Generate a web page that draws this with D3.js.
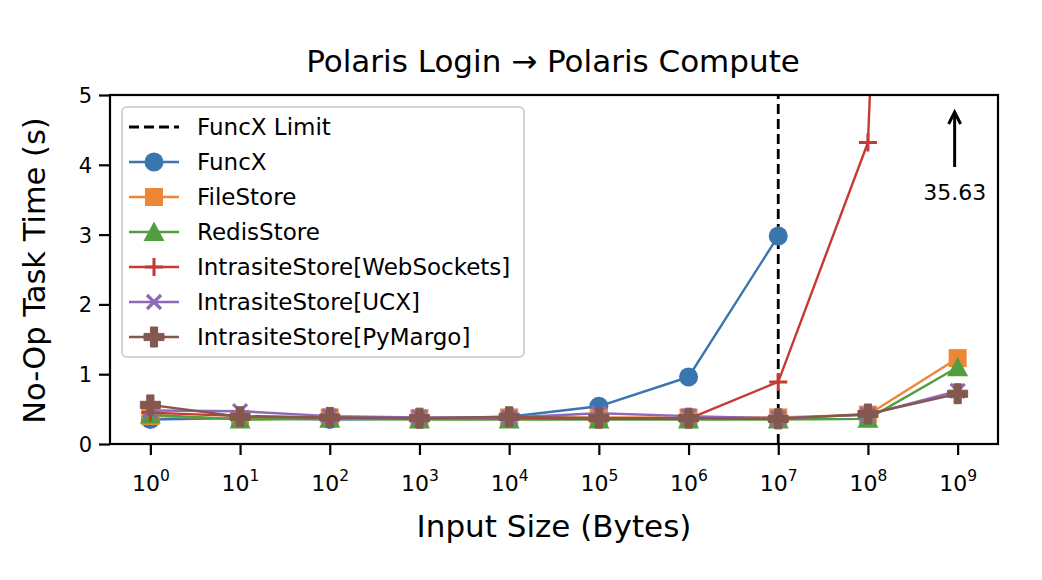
<!DOCTYPE html>
<html>
<head>
<meta charset="utf-8">
<script src="https://cdn.jsdelivr.net/npm/d3@7"></script>
<style>
  html, body { margin: 0; padding: 0; background: #fff; }
  svg { display: block; font-family: "DejaVu Sans", sans-serif; }
</style>
</head>
<body>
<svg id="chart" width="1042" height="580"></svg>
<script>
// ---- data ----
const exponents = [0, 1, 2, 3, 4, 5, 6, 7, 8, 9];
const yTicks = [0, 1, 2, 3, 4, 5];
const funcxLimitIndex = 7;
const funcx      = [0.35, 0.37, 0.35, 0.36, 0.39, 0.54, 0.96, 2.98];
const fileStore  = [0.40, 0.36, 0.38, 0.37, 0.38, 0.38, 0.38, 0.38, 0.42, 1.23];
const redisStore = [0.42, 0.35, 0.36, 0.35, 0.35, 0.35, 0.35, 0.35, 0.36, 1.10];
const wsStore    = [0.45, 0.40, 0.38, 0.37, 0.37, 0.36, 0.36, 0.89, 4.32, 35.63];
const ucxStore   = [0.48, 0.47, 0.40, 0.38, 0.38, 0.44, 0.40, 0.37, 0.42, 0.76];
const margoStore = [0.56, 0.39, 0.38, 0.37, 0.39, 0.37, 0.37, 0.36, 0.43, 0.72];
const seriesNames = ["FuncX", "FileStore", "RedisStore", "IntrasiteStore[WebSockets]", "IntrasiteStore[UCX]", "IntrasiteStore[PyMargo]"];
const seriesValues = [funcx, fileStore, redisStore, wsStore, ucxStore, margoStore];
const seriesColors = ["#3a75b0", "#ef8636", "#519e3e", "#c53a32", "#8d69b8", "#84584e"];
const seriesMarkers = ["circle", "square", "triangle", "plus", "x", "filledplus"];
const annotationText = "35.63";

// ---- layout ----
const L = 110, R = 998, T = 95, B = 444;
const svg = d3.select("#chart");
const x = d3.scaleLinear().domain([-0.45, 9.45]).range([L, R]);
const y = d3.scaleLinear().domain([0, 5]).range([B, T]);

svg.append("defs").append("clipPath").attr("id", "clip")
  .append("rect").attr("x", L).attr("y", T).attr("width", R - L).attr("height", B - T);

// title
svg.append("text").attr("x", 553).attr("y", 72).attr("text-anchor", "middle")
  .attr("font-size", 31).attr("fill", "#000").text("Polaris Login \u2192 Polaris Compute");

// axes
const xAxis = d3.axisBottom(x).tickValues(exponents).tickSize(11).tickPadding(7).tickFormat(() => "");
const gx = svg.append("g").attr("transform", `translate(0,${B})`).call(xAxis);
gx.select(".domain").remove();
gx.selectAll(".tick line").attr("stroke", "#000").attr("stroke-width", 2.2);
gx.selectAll(".tick").each(function(d) {
  const t = d3.select(this).append("text")
    .attr("y", 47).attr("text-anchor", "middle").attr("fill", "#000")
    .attr("font-size", 22).attr("font-family", "DejaVu Sans, sans-serif");
  t.append("tspan").text("10");
  t.append("tspan").attr("dy", -10).attr("font-size", 15.5).text(String(d));
});

const yAxis = d3.axisLeft(y).tickValues(yTicks).tickSize(11).tickPadding(7).tickFormat(d3.format("d"));
const gy = svg.append("g").attr("transform", `translate(${L},0)`).call(yAxis);
gy.select(".domain").remove();
gy.selectAll(".tick line").attr("stroke", "#000").attr("stroke-width", 2.2);
gy.selectAll(".tick text").attr("font-size", 21).attr("fill", "#000")
  .attr("font-family", "DejaVu Sans, sans-serif").attr("dy", "0.36em");

// axis labels
svg.append("text").attr("x", 554).attr("y", 537).attr("text-anchor", "middle")
  .attr("font-size", 31).attr("fill", "#000").text("Input Size (Bytes)");
svg.append("text").attr("transform", `translate(45,${(T + B) / 2 + 1}) rotate(-90)`)
  .attr("text-anchor", "middle").attr("font-size", 30.5).attr("fill", "#000")
  .text("No-Op Task Time (s)");

// plot area
const plot = svg.append("g").attr("clip-path", "url(#clip)");

// FuncX limit
plot.append("line")
  .attr("x1", x(funcxLimitIndex)).attr("x2", x(funcxLimitIndex))
  .attr("y1", y(0)).attr("y2", y(5))
  .attr("stroke", "#000").attr("stroke-width", 2.8).attr("stroke-dasharray", "10,5");

function drawMarker(g, kind, cx, cy, color) {
  const s = 9.5;
  if (kind === "circle") {
    g.append("circle").attr("cx", cx).attr("cy", cy).attr("r", s).attr("fill", color);
  } else if (kind === "square") {
    g.append("rect").attr("x", cx - 9).attr("y", cy - 9).attr("width", 18).attr("height", 18).attr("fill", color);
  } else if (kind === "triangle") {
    const h = 10.5;
    g.append("path").attr("d", `M${cx},${cy - h} L${cx + h},${cy + h * 0.85} L${cx - h},${cy + h * 0.85} Z`).attr("fill", color);
  } else if (kind === "plus") {
    g.append("path").attr("d", `M${cx - 9},${cy} H${cx + 9} M${cx},${cy - 9} V${cy + 9}`)
      .attr("stroke", color).attr("stroke-width", 3).attr("fill", "none");
  } else if (kind === "x") {
    const d = 7;
    g.append("path").attr("d", `M${cx - d},${cy - d} L${cx + d},${cy + d} M${cx - d},${cy + d} L${cx + d},${cy - d}`)
      .attr("stroke", color).attr("stroke-width", 3.2).attr("fill", "none");
  } else if (kind === "filledplus") {
    const a = 10, w = 3.6;
    g.append("path").attr("d",
      `M${cx - w},${cy - a} H${cx + w} V${cy - w} H${cx + a} V${cy + w} H${cx + w} V${cy + a} H${cx - w} V${cy + w} H${cx - a} V${cy - w} H${cx - w} Z`)
      .attr("fill", color).attr("stroke", color).attr("stroke-width", 1).attr("stroke-linejoin", "round");
  }
}

const line = d3.line().x((d, i) => x(i)).y(d => y(d));
seriesValues.forEach((vals, si) => {
  const g = plot.append("g");
  g.append("path").datum(vals).attr("d", line).attr("fill", "none")
    .attr("stroke", seriesColors[si]).attr("stroke-width", 2.4).attr("stroke-linejoin", "round");
  vals.forEach((v, i) => drawMarker(g, seriesMarkers[si], x(i), y(v), seriesColors[si]));
});

// frame
svg.append("rect").attr("x", L).attr("y", T).attr("width", R - L).attr("height", B - T)
  .attr("fill", "none").attr("stroke", "#000").attr("stroke-width", 2.2);

// annotation arrow for off-chart value
const ax = x(9) - 3;
svg.append("line").attr("x1", ax).attr("x2", ax).attr("y1", 167).attr("y2", 113)
  .attr("stroke", "#000").attr("stroke-width", 3);
svg.append("path").attr("d", `M${ax - 6},${124} L${ax},${112} L${ax + 6},${124}`)
  .attr("fill", "none").attr("stroke", "#000").attr("stroke-width", 3).attr("stroke-linejoin", "miter");
svg.append("text").attr("x", ax).attr("y", 200).attr("text-anchor", "middle")
  .attr("font-size", 22).attr("fill", "#000").text(annotationText);

// legend
const lg = svg.append("g");
lg.append("rect").attr("x", 122).attr("y", 107).attr("width", 402).attr("height", 250)
  .attr("rx", 5).attr("fill", "#fff").attr("fill-opacity", 0.8)
  .attr("stroke", "#d4d4d4").attr("stroke-width", 2);
const rowY = i => 127 + i * 35;
lg.append("line").attr("x1", 129).attr("x2", 179).attr("y1", rowY(0)).attr("y2", rowY(0))
  .attr("stroke", "#000").attr("stroke-width", 2.8).attr("stroke-dasharray", "10,5");
lg.append("text").attr("x", 197).attr("y", rowY(0)).attr("dy", "0.36em")
  .attr("font-size", 23).attr("fill", "#000").text("FuncX Limit");
seriesNames.forEach((name, si) => {
  const yy = rowY(si + 1);
  lg.append("line").attr("x1", 129).attr("x2", 179).attr("y1", yy).attr("y2", yy)
    .attr("stroke", seriesColors[si]).attr("stroke-width", 2.4);
  drawMarker(lg, seriesMarkers[si], 154, yy, seriesColors[si]);
  lg.append("text").attr("x", 197).attr("y", yy).attr("dy", "0.36em")
    .attr("font-size", 23).attr("fill", "#000").text(name);
});
</script>
</body>
</html>
